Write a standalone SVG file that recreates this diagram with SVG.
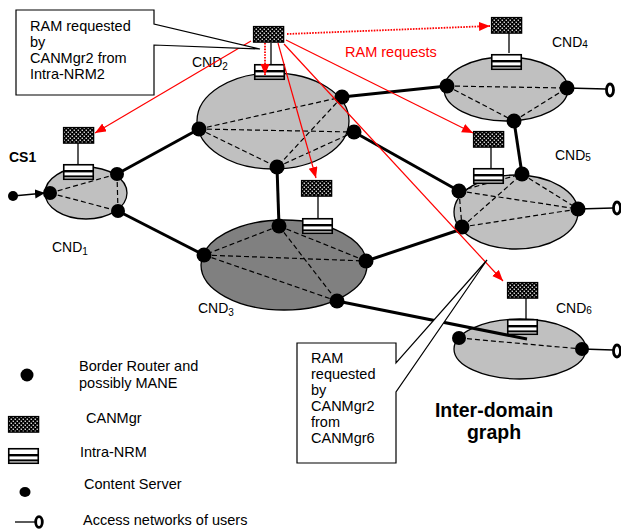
<svg xmlns="http://www.w3.org/2000/svg" xmlns:xlink="http://www.w3.org/1999/xlink" width="621" height="529" viewBox="0 0 621 529">
  <style>
    text { font-family: "Liberation Sans", Arial, sans-serif; fill: #000; }
    .t { font-size: 14.5px; }
    .cnd { font-size: 14px; }
    .sub { font-size: 10px; }
    .bold { font-weight: bold; }
    .red { fill: #ff0000; }
    .dom { fill: #c0c0c0; stroke: #000; stroke-width: 1.3; }
    .dom3 { fill: #808080; stroke: #000; stroke-width: 1.3; }
    .dash { stroke: #000; stroke-width: 1.2; stroke-dasharray: 5 3; fill: none; }
    .link { stroke: #000; stroke-width: 3; fill: none; }
    .thin { stroke: #000; stroke-width: 1.3; fill: none; }
    .acc { fill: none; stroke: #000; stroke-width: 2.8; }
    .ram { stroke: #ff0000; stroke-width: 1.2; fill: none; marker-end: url(#redArrow); }
    .ramdot { stroke: #ff0000; stroke-width: 1.8; stroke-dasharray: 1.6 1.2; fill: none; marker-end: url(#redArrow); }
    .callout { fill: #fff; stroke: #000; stroke-width: 1.2; }
  </style>
  <defs>
    <pattern id="chk" width="4" height="4" patternUnits="userSpaceOnUse">
      <rect width="4" height="4" fill="#000"/>
      <rect x="0.6" y="0.6" width="1.3" height="1.3" fill="#fff"/>
      <rect x="2.6" y="2.6" width="1.3" height="1.3" fill="#fff"/>
    </pattern>
    <marker id="redArrow" markerUnits="userSpaceOnUse" markerWidth="12" markerHeight="10" refX="11" refY="4.5" orient="auto">
      <path d="M0,0 L11,4.5 L0,9 Z" fill="#ff0000"/>
    </marker>
    <marker id="blkArrow" markerUnits="userSpaceOnUse" markerWidth="12" markerHeight="10" refX="10" refY="4.5" orient="auto">
      <path d="M0,0 L10,4.5 L0,9 Z" fill="#000"/>
    </marker>
    <!-- CANMgr symbol -->
    <g id="canmgr">
      <rect x="0.6" y="0.6" width="30" height="15.5" fill="url(#chk)" stroke="#000" stroke-width="1.4"/>
    </g>
    <!-- Intra-NRM symbol -->
    <g id="nrm">
      <rect x="0.75" y="0.75" width="29.5" height="14.5" fill="#fff" stroke="#000" stroke-width="1.6"/>
      <line x1="0.75" y1="7.2" x2="30.25" y2="7.2" stroke="#000" stroke-width="2.4"/>
      <line x1="0.75" y1="12.4" x2="30.25" y2="12.4" stroke="#000" stroke-width="2"/>
    </g>
  </defs>

  <rect width="621" height="529" fill="#fff"/>

  <!-- CND1 -->
  <g id="cnd1">
    <ellipse class="dom" cx="86" cy="193" rx="41" ry="26"/>
    <path class="dash" d="M50,193 L117,174 M50,193 L118,211 M117,174 L118,211"/>
    <circle cx="50" cy="193" r="7"/>
    <circle cx="117" cy="174" r="7"/>
    <circle cx="118" cy="211" r="7"/>
    <line class="thin" x1="78" y1="143" x2="78" y2="164"/>
    <use xlink:href="#canmgr" x="63" y="127"/>
    <use xlink:href="#nrm" x="63" y="164"/>
    <text class="cnd" x="52" y="252">CND<tspan class="sub" dy="3">1</tspan></text>
  </g>

  <!-- Content server CS1 -->
  <g id="cs1">
    <circle cx="13" cy="196" r="5"/>
    <text class="cnd bold" x="9" y="162">CS1</text>
  </g>

  <!-- CND2 -->
  <g id="cnd2">
    <ellipse class="dom" cx="273" cy="121" rx="76" ry="48"/>
    <path class="dash" d="M199,129 L342,97 M199,129 L354,132 M199,129 L277,167 M342,97 L277,167 M277,167 L354,132"/>
    <circle cx="199" cy="129" r="7.5"/>
    <circle cx="342" cy="97" r="7.5"/>
    <circle cx="354" cy="132" r="7.5"/>
    <circle cx="277" cy="167" r="7.5"/>
    <line class="thin" x1="271" y1="43" x2="271" y2="64"/>
    <use xlink:href="#canmgr" x="253" y="26"/>
    <use xlink:href="#nrm" x="254" y="64"/>
    <text class="cnd" x="192" y="67">CND<tspan class="sub" dy="3">2</tspan></text>
  </g>

  <!-- CND3 -->
  <g id="cnd3">
    <ellipse class="dom3" cx="284" cy="265" rx="83" ry="45"/>
    <path class="dash" d="M279,226 L204,255 M279,226 L366,261 M279,226 L337,301 M204,255 L366,261 M204,255 L337,301"/>
    <circle cx="279" cy="226" r="7.5"/>
    <circle cx="204" cy="255" r="7.5"/>
    <circle cx="366" cy="261" r="7.5"/>
    <circle cx="337" cy="301" r="7.5"/>
    <line class="thin" x1="318" y1="196" x2="318" y2="218"/>
    <use xlink:href="#canmgr" x="301" y="180"/>
    <use xlink:href="#nrm" x="302" y="218"/>
    <text class="cnd" x="198" y="313">CND<tspan class="sub" dy="3">3</tspan></text>
  </g>

  <!-- CND4 -->
  <g id="cnd4">
    <ellipse class="dom" cx="506" cy="89" rx="62" ry="32"/>
    <path class="dash" d="M447,86 L567,88 M447,86 L514,121 M514,121 L567,88"/>
    <circle cx="447" cy="86" r="7.5"/>
    <circle cx="567" cy="88" r="7.5"/>
    <circle cx="514" cy="121" r="7.5"/>
    <line class="thin" x1="509" y1="33" x2="509" y2="53"/>
    <use xlink:href="#canmgr" x="491" y="17"/>
    <use xlink:href="#nrm" x="491" y="54"/>
    <text class="cnd" x="552" y="47">CND<tspan class="sub" dy="1">4</tspan></text>
    <line class="thin" x1="567" y1="88" x2="606" y2="89"/>
    <ellipse class="acc" cx="610" cy="90" rx="3.5" ry="6"/>
  </g>

  <!-- CND5 -->
  <g id="cnd5">
    <ellipse class="dom" cx="516" cy="212" rx="62" ry="37"/>
    <path class="dash" d="M459,191 L522,174 M459,191 L578,209 M522,174 L578,209 M462,227 L522,174 M462,227 L578,209 M459,191 L462,227"/>
    <circle cx="522" cy="174" r="7.5"/>
    <circle cx="459" cy="191" r="7.5"/>
    <circle cx="462" cy="227" r="7.5"/>
    <circle cx="578" cy="209" r="7.5"/>
    <line class="thin" x1="491" y1="147" x2="491" y2="168"/>
    <use xlink:href="#canmgr" x="473" y="131"/>
    <use xlink:href="#nrm" x="473" y="168"/>
    <text class="cnd" x="555" y="160">CND<tspan class="sub" dy="1">5</tspan></text>
    <line class="thin" x1="578" y1="209" x2="613" y2="208"/>
    <ellipse class="acc" cx="617" cy="208" rx="3.5" ry="6"/>
  </g>

  <!-- CND6 -->
  <g id="cnd6">
    <ellipse class="dom" cx="520" cy="349" rx="66" ry="30"/>
    <path class="dash" d="M459,338 L582,349"/>
    <circle cx="459" cy="338" r="7"/>
    <circle cx="582" cy="349" r="7"/>
    <line class="thin" x1="526" y1="297" x2="526" y2="319"/>
    <use xlink:href="#canmgr" x="507" y="282"/>
    <use xlink:href="#nrm" x="507" y="319"/>
    <text class="cnd" x="556" y="313">CND<tspan class="sub" dy="1">6</tspan></text>
    <line class="thin" x1="582" y1="349" x2="613" y2="350"/>
    <ellipse class="acc" cx="617" cy="351" rx="3.5" ry="6"/>
  </g>

  <!-- Connectors -->
  <g id="connectors">
    <line class="link" x1="117" y1="174" x2="199" y2="129"/>
    <line class="link" x1="118" y1="211" x2="204" y2="255"/>
    <line class="link" x1="277" y1="167" x2="279" y2="226"/>
    <line class="link" x1="342" y1="97" x2="447" y2="86"/>
    <line class="link" x1="354" y1="132" x2="459" y2="191"/>
    <line class="link" x1="514" y1="121" x2="522" y2="174"/>
    <line class="link" x1="366" y1="261" x2="462" y2="229"/>
    <line class="link" x1="337" y1="301" x2="527" y2="339"/>
    <line stroke="#000" stroke-width="1.5" x1="13" y1="196" x2="45" y2="193" marker-end="url(#blkArrow)"/>

    <!-- RAM requests issued by CANMgr2 -->
    <line class="ram" x1="251" y1="41" x2="95" y2="133"/>
    <line class="ramdot" x1="265" y1="43" x2="265" y2="75"/>
    <line class="ram" x1="278" y1="43" x2="316" y2="178"/>
    <line class="ramdot" x1="287" y1="34" x2="490" y2="26"/>
    <line class="ram" x1="286" y1="40" x2="473" y2="133"/>
    <line class="ram" x1="284" y1="44" x2="503" y2="281"/>
  </g>

  <text class="t red" x="345" y="57">RAM requests</text>

  <!-- Callouts -->
  <g id="callout-intra">
    <path class="callout" d="M16,10 H154 V24 L260,49 L154,45 V95 H16 Z"/>
    <text class="t" x="30" y="31">RAM requested</text>
    <text class="t" x="30" y="47">by</text>
    <text class="t" x="30" y="63">CANMgr2 from</text>
    <text class="t" x="30" y="79">Intra-NRM2</text>
  </g>
  <g id="callout-inter">
    <path class="callout" d="M297,343 H396 V363 L487,260 L396,392 V463 H297 Z"/>
    <text class="t" x="311" y="363">RAM</text>
    <text class="t" x="311" y="379">requested</text>
    <text class="t" x="311" y="395">by</text>
    <text class="t" x="311" y="411">CANMgr2</text>
    <text class="t" x="311" y="427">from</text>
    <text class="t" x="311" y="443">CANMgr6</text>
  </g>

  <g id="title">
    <text class="bold" font-size="19.5" x="494" y="417" text-anchor="middle">Inter-domain</text>
    <text class="bold" font-size="19.5" x="494" y="439" text-anchor="middle">graph</text>
  </g>

  <!-- Legend -->
  <g id="legend">
    <circle cx="27" cy="375" r="6.5"/>
    <text class="t" x="79" y="371">Border Router and</text>
    <text class="t" x="79" y="388">possibly MANE</text>
    <use xlink:href="#canmgr" x="8" y="416"/>
    <text class="t" x="86" y="423">CANMgr</text>
    <use xlink:href="#nrm" x="8" y="448"/>
    <text class="t" x="80" y="457">Intra-NRM</text>
    <ellipse cx="25" cy="492" rx="5.5" ry="5"/>
    <text class="t" x="84" y="489">Content Server</text>
    <line class="thin" x1="15" y1="522" x2="35" y2="522"/>
    <ellipse class="acc" cx="39" cy="522" rx="3.3" ry="5.3"/>
    <text class="t" x="83" y="525">Access networks of users</text>
  </g>
</svg>
